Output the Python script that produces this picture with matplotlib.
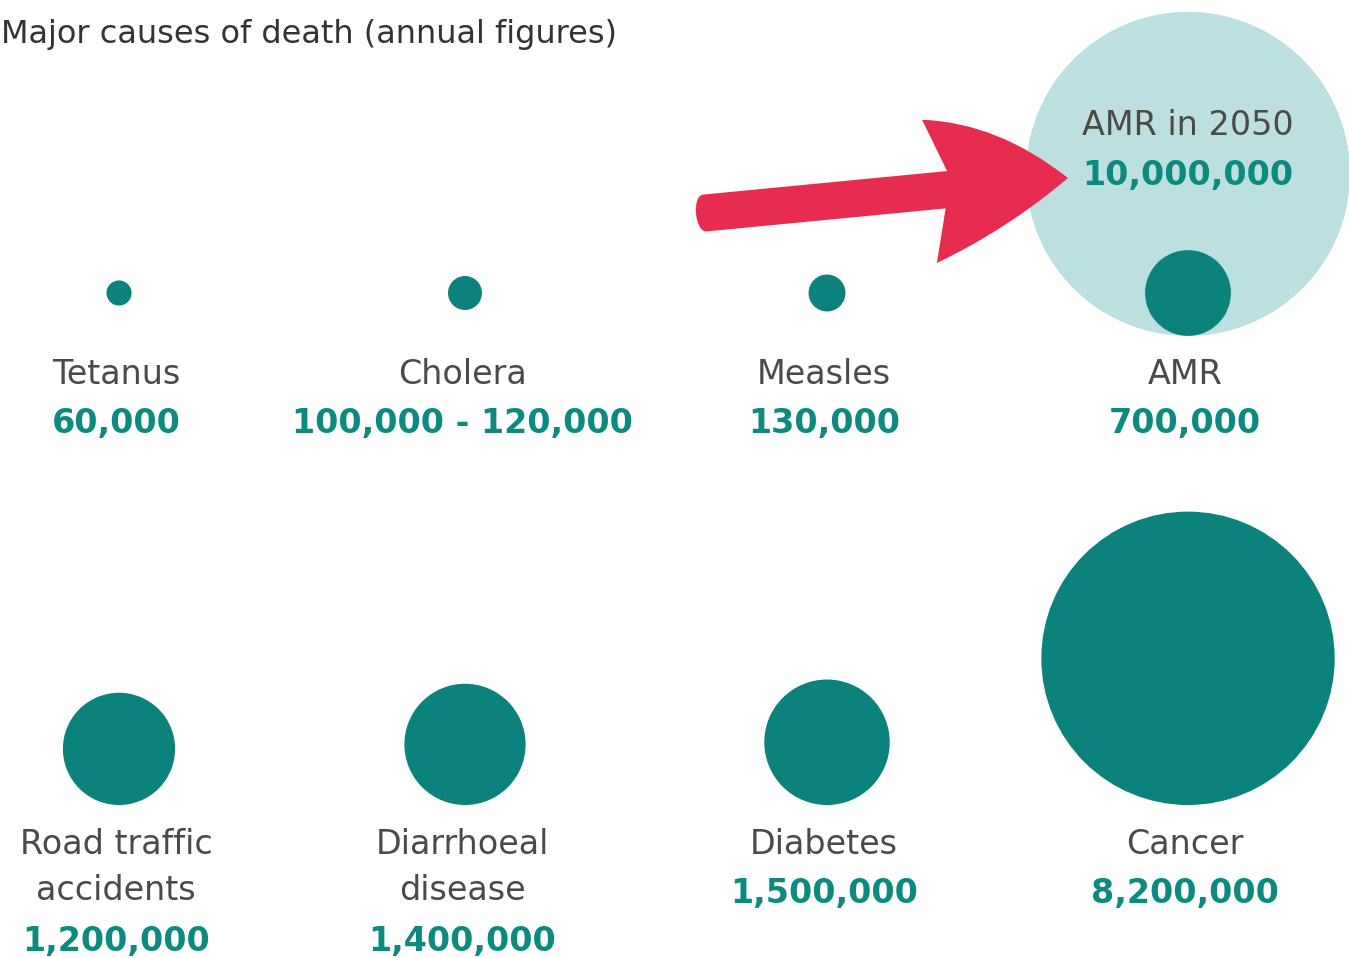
import numpy as np
import matplotlib.pyplot as plt
from matplotlib.patches import Circle, PathPatch
from matplotlib.path import Path
from matplotlib.transforms import Affine2D

# data
names = ["Tetanus", "Cholera", "Measles", "AMR",
         "Road traffic\naccidents", "Diarrhoeal\ndisease", "Diabetes", "Cancer"]
values = [60000, 110000, 130000, 700000, 1200000, 1400000, 1500000, 8200000]
value_labels = ["60,000", "100,000 - 120,000", "130,000", "700,000",
                "1,200,000", "1,400,000", "1,500,000", "8,200,000"]
future_name = "AMR in 2050"
future_value = 10000000
future_label = "10,000,000"
title = "Major causes of death (annual figures)"

# layout (pixels)
col_x = [119, 465, 827, 1188]
top_cy = 293
bottom_base = 805
r_max = 162.0   # radius of the 10M circle

teal = "#0b827c"
teal_txt = "#0d8a80"
light = "#bcdfe0"
grey = "#4a4a4a"
red = "#e82c50"

def radius(v):
    return r_max * np.sqrt(v / future_value)

fig = plt.figure(figsize=(13.49, 9.58), dpi=100)
ax = fig.add_axes([0, 0, 1, 1])
ax.set_xlim(0, 1349)
ax.set_ylim(958, 0)
ax.set_aspect("equal")
ax.axis("off")

fig.text(1 / 1349, 1 - 35 / 958, title, ha="left", va="center",
         fontsize=23, color="#333333")

# future AMR bubble (behind AMR)
amr_r = radius(values[3])
fr = radius(future_value)
fcy = top_cy + amr_r - fr
ax.add_patch(Circle((col_x[3], fcy), fr, color=light, lw=0, zorder=1))
ax.text(col_x[3], 125, future_name, ha="center", va="center", fontsize=24, color=grey, zorder=3)
ax.text(col_x[3], 175, future_label, ha="center", va="center", fontsize=24,
        fontweight="bold", color=teal_txt, zorder=3)

for i, (n, v, lab) in enumerate(zip(names, values, value_labels)):
    r = radius(v)
    x = col_x[i % 4]
    if i < 4:
        cy = top_cy
        ty = 375
    else:
        cy = bottom_base - r
        ty = 845
    ax.add_patch(Circle((x, cy), r, color=teal, lw=0, zorder=2))
    lines = n.split("\n")
    for j, ln in enumerate(lines):
        ax.text(x - 3, ty + j * 46, ln, ha="center", va="center", fontsize=24, color=grey)
    ax.text(x - 3, ty + len(lines) * 47 + 2, lab, ha="center", va="center", fontsize=24,
            fontweight="bold", color=teal_txt)

# red arrow pointing to the 2050 figure (drawn along its own axis, then rotated)
start = np.array([705, 213])
tip = np.array([1068, 178])
d = tip - start
L = np.hypot(*d)
ang = np.arctan2(d[1], d[0])
hw = 18.5
verts = [(0, -hw), (245, -hw), (225, -72), (300, -62), (L, 0),
         (300, 45), (226, 72), (240, hw), (0, hw), (-12, hw), (-12, -hw), (0, -hw)]
codes = [Path.MOVETO, Path.LINETO, Path.LINETO, Path.CURVE3, Path.CURVE3,
         Path.CURVE3, Path.CURVE3, Path.LINETO, Path.LINETO, Path.CURVE4, Path.CURVE4, Path.CURVE4]
arrow = Path(verts, codes)
tr = Affine2D().rotate(ang).translate(*start) + ax.transData
ax.add_patch(PathPatch(arrow, transform=tr, facecolor=red, lw=0, zorder=4))

fig.savefig("out.png", dpi=100, facecolor="white")
